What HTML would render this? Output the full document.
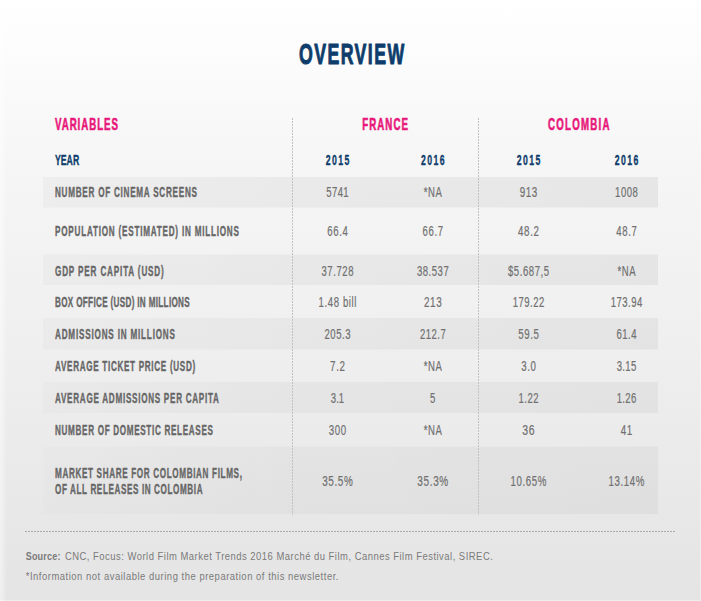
<!DOCTYPE html>
<html><head><meta charset="utf-8"><style>
html,body{margin:0;padding:0;width:701px;height:601px;overflow:hidden;background:#fff}
svg{display:block}
text{font-family:"Liberation Sans",sans-serif}
</style></head><body>
<svg width="701" height="601" viewBox="0 0 701 601">
<defs>
<linearGradient id="bg" x1="0" y1="0" x2="0" y2="1">
<stop offset="0" stop-color="#ffffff"/>
<stop offset="0.06" stop-color="#fdfdfd"/>
<stop offset="0.3" stop-color="#f5f5f5"/>
<stop offset="0.58" stop-color="#efefef"/>
<stop offset="0.88" stop-color="#e7e7e7"/>
<stop offset="1" stop-color="#e4e4e4"/>
</linearGradient>
<linearGradient id="g0" x1="0" y1="0" x2="1" y2="0"><stop offset="0" stop-color="#000" stop-opacity="0.0300"/><stop offset="0.4" stop-color="#000" stop-opacity="0.0450"/><stop offset="1" stop-color="#000" stop-opacity="0.0600"/></linearGradient><linearGradient id="g1" x1="0" y1="0" x2="1" y2="0"><stop offset="0" stop-color="#000" stop-opacity="0.0244"/><stop offset="0.4" stop-color="#000" stop-opacity="0.0405"/><stop offset="1" stop-color="#000" stop-opacity="0.0540"/></linearGradient><linearGradient id="g2" x1="0" y1="0" x2="1" y2="0"><stop offset="0" stop-color="#000" stop-opacity="0.0198"/><stop offset="0.4" stop-color="#000" stop-opacity="0.0368"/><stop offset="1" stop-color="#000" stop-opacity="0.0490"/></linearGradient><linearGradient id="g3" x1="0" y1="0" x2="1" y2="0"><stop offset="0" stop-color="#000" stop-opacity="0.0152"/><stop offset="0.4" stop-color="#000" stop-opacity="0.0330"/><stop offset="1" stop-color="#000" stop-opacity="0.0440"/></linearGradient><linearGradient id="g4" x1="0" y1="0" x2="1" y2="0"><stop offset="0" stop-color="#000" stop-opacity="0.0105"/><stop offset="0.4" stop-color="#000" stop-opacity="0.0292"/><stop offset="1" stop-color="#000" stop-opacity="0.0390"/></linearGradient>
<linearGradient id="lf" x1="0" y1="0" x2="1" y2="0"><stop offset="0" stop-color="#fff" stop-opacity="0.5"/><stop offset="1" stop-color="#fff" stop-opacity="0"/></linearGradient>
</defs>
<rect width="701" height="601" fill="url(#bg)"/>
<rect x="43" y="177" width="615" height="30.5" fill="url(#g0)"/><rect x="43" y="254.5" width="615" height="30.5" fill="url(#g1)"/><rect x="43" y="318" width="615" height="31.5" fill="url(#g2)"/><rect x="43" y="382" width="615" height="31" fill="url(#g3)"/><rect x="43" y="446.6" width="615" height="67.39999999999998" fill="url(#g4)"/>
<rect x="0" y="0" width="7" height="601" fill="url(#lf)"/><rect x="700" y="0" width="1" height="601" fill="#fff" fill-opacity="0.35"/><rect x="0" y="600" width="700" height="1" fill="#fff" fill-opacity="0.35"/>
<line x1="292.5" y1="118" x2="292.5" y2="515" stroke="#c2c2c2" stroke-width="1" stroke-dasharray="2 1"/>
<line x1="478.5" y1="118" x2="478.5" y2="515" stroke="#c2c2c2" stroke-width="1" stroke-dasharray="2 1"/>
<line x1="25" y1="531.5" x2="675" y2="531.5" stroke="#ababab" stroke-width="1" stroke-dasharray="2 1"/>
<text transform="translate(298.90,63.60) scale(0.6,1)" font-size="29.6" font-weight="bold" fill="#0e3d6b" stroke="#0e3d6b" stroke-width="1.0" stroke-linejoin="round" letter-spacing="2.377">OVERVIEW</text><text transform="translate(55.00,129.80) scale(0.6,1)" font-size="16.2" font-weight="bold" fill="#e8177a" stroke="#e8177a" stroke-width="0.6" stroke-linejoin="round" letter-spacing="1.572">VARIABLES</text><text transform="translate(362.20,129.80) scale(0.6,1)" font-size="16.2" font-weight="bold" fill="#e8177a" stroke="#e8177a" stroke-width="0.6" stroke-linejoin="round" letter-spacing="1.764">FRANCE</text><text transform="translate(548.05,129.80) scale(0.6,1)" font-size="16.2" font-weight="bold" fill="#e8177a" stroke="#e8177a" stroke-width="0.6" stroke-linejoin="round" letter-spacing="2.042">COLOMBIA</text><text transform="translate(55.00,165.30) scale(0.6,1)" font-size="14.5" font-weight="bold" fill="#0e3d6b" stroke="#0e3d6b" stroke-width="0.35" stroke-linejoin="round" letter-spacing="0.020">YEAR</text><text transform="translate(325.75,165.30) scale(0.6,1)" font-size="14.5" font-weight="bold" fill="#0e3d6b" stroke="#0e3d6b" stroke-width="0.35" stroke-linejoin="round" letter-spacing="2.301">2015</text><text transform="translate(421.05,165.30) scale(0.6,1)" font-size="14.5" font-weight="bold" fill="#0e3d6b" stroke="#0e3d6b" stroke-width="0.35" stroke-linejoin="round" letter-spacing="2.301">2016</text><text transform="translate(516.75,165.30) scale(0.6,1)" font-size="14.5" font-weight="bold" fill="#0e3d6b" stroke="#0e3d6b" stroke-width="0.35" stroke-linejoin="round" letter-spacing="2.301">2015</text><text transform="translate(614.75,165.30) scale(0.6,1)" font-size="14.5" font-weight="bold" fill="#0e3d6b" stroke="#0e3d6b" stroke-width="0.35" stroke-linejoin="round" letter-spacing="2.301">2016</text><text transform="translate(55.00,197.00) scale(0.58,1)" font-size="14" font-weight="bold" fill="#676767" stroke="#676767" stroke-width="0.4" stroke-linejoin="round" letter-spacing="1.300">NUMBER OF CINEMA SCREENS</text><text transform="translate(326.35,197.00) scale(0.68,1)" font-size="14" font-weight="normal" fill="#717171" stroke="#717171" stroke-width="0.22" stroke-linejoin="round" letter-spacing="0.548">5741</text><text transform="translate(423.70,197.00) scale(0.6811377245508982,1)" font-size="14" font-weight="normal" fill="#717171" stroke="#717171" stroke-width="0.22" stroke-linejoin="round" letter-spacing="0.900">*NA</text><text transform="translate(519.65,197.00) scale(0.7039172797772917,1)" font-size="14" font-weight="normal" fill="#717171" stroke="#717171" stroke-width="0.22" stroke-linejoin="round" letter-spacing="0.900">913</text><text transform="translate(615.10,197.00) scale(0.68,1)" font-size="14" font-weight="normal" fill="#717171" stroke="#717171" stroke-width="0.22" stroke-linejoin="round" letter-spacing="0.793">1008</text><text transform="translate(55.00,236.00) scale(0.58,1)" font-size="14" font-weight="bold" fill="#676767" stroke="#676767" stroke-width="0.4" stroke-linejoin="round" letter-spacing="1.357">POPULATION (ESTIMATED) IN MILLIONS</text><text transform="translate(327.25,236.00) scale(0.6841314867345236,1)" font-size="14" font-weight="normal" fill="#717171" stroke="#717171" stroke-width="0.22" stroke-linejoin="round" letter-spacing="0.900">66.4</text><text transform="translate(422.55,236.00) scale(0.6841314867345236,1)" font-size="14" font-weight="normal" fill="#717171" stroke="#717171" stroke-width="0.22" stroke-linejoin="round" letter-spacing="0.900">66.7</text><text transform="translate(518.05,236.00) scale(0.6974803937927582,1)" font-size="14" font-weight="normal" fill="#717171" stroke="#717171" stroke-width="0.22" stroke-linejoin="round" letter-spacing="0.900">48.2</text><text transform="translate(616.25,236.00) scale(0.6841314867345236,1)" font-size="14" font-weight="normal" fill="#717171" stroke="#717171" stroke-width="0.22" stroke-linejoin="round" letter-spacing="0.900">48.7</text><text transform="translate(55.00,275.50) scale(0.58,1)" font-size="14" font-weight="bold" fill="#676767" stroke="#676767" stroke-width="0.4" stroke-linejoin="round" letter-spacing="1.453">GDP PER CAPITA (USD)</text><text transform="translate(321.50,275.50) scale(0.68,1)" font-size="14" font-weight="normal" fill="#717171" stroke="#717171" stroke-width="0.22" stroke-linejoin="round" letter-spacing="0.851">37.728</text><text transform="translate(416.93,275.50) scale(0.68,1)" font-size="14" font-weight="normal" fill="#717171" stroke="#717171" stroke-width="0.22" stroke-linejoin="round" letter-spacing="0.777">38.537</text><text transform="translate(507.95,275.50) scale(0.68,1)" font-size="14" font-weight="normal" fill="#717171" stroke="#717171" stroke-width="0.22" stroke-linejoin="round" letter-spacing="0.849">$5.687,5</text><text transform="translate(617.40,275.50) scale(0.6811377245508982,1)" font-size="14" font-weight="normal" fill="#717171" stroke="#717171" stroke-width="0.22" stroke-linejoin="round" letter-spacing="0.900">*NA</text><text transform="translate(55.00,307.20) scale(0.58,1)" font-size="14" font-weight="bold" fill="#676767" stroke="#676767" stroke-width="0.4" stroke-linejoin="round" letter-spacing="0.571">BOX OFFICE (USD) IN MILLIONS</text><text transform="translate(318.50,307.20) scale(0.6851167402866672,1)" font-size="14" font-weight="normal" fill="#717171" stroke="#717171" stroke-width="0.22" stroke-linejoin="round" letter-spacing="0.900">1.48 bill</text><text transform="translate(423.90,307.20) scale(0.7078942135613443,1)" font-size="14" font-weight="normal" fill="#717171" stroke="#717171" stroke-width="0.22" stroke-linejoin="round" letter-spacing="0.900">213</text><text transform="translate(512.80,307.20) scale(0.68,1)" font-size="14" font-weight="normal" fill="#717171" stroke="#717171" stroke-width="0.22" stroke-linejoin="round" letter-spacing="0.674">179.22</text><text transform="translate(610.75,307.20) scale(0.68,1)" font-size="14" font-weight="normal" fill="#717171" stroke="#717171" stroke-width="0.22" stroke-linejoin="round" letter-spacing="0.704">173.94</text><text transform="translate(55.00,339.30) scale(0.58,1)" font-size="14" font-weight="bold" fill="#676767" stroke="#676767" stroke-width="0.4" stroke-linejoin="round" letter-spacing="1.407">ADMISSIONS IN MILLIONS</text><text transform="translate(324.45,339.30) scale(0.68,1)" font-size="14" font-weight="normal" fill="#717171" stroke="#717171" stroke-width="0.22" stroke-linejoin="round" letter-spacing="0.837">205.3</text><text transform="translate(419.90,339.30) scale(0.68,1)" font-size="14" font-weight="normal" fill="#717171" stroke="#717171" stroke-width="0.22" stroke-linejoin="round" letter-spacing="0.727">212.7</text><text transform="translate(518.15,339.30) scale(0.6908059402636408,1)" font-size="14" font-weight="normal" fill="#717171" stroke="#717171" stroke-width="0.22" stroke-linejoin="round" letter-spacing="0.900">59.5</text><text transform="translate(616.45,339.30) scale(0.68,1)" font-size="14" font-weight="normal" fill="#717171" stroke="#717171" stroke-width="0.22" stroke-linejoin="round" letter-spacing="0.765">61.4</text><text transform="translate(55.00,371.40) scale(0.58,1)" font-size="14" font-weight="bold" fill="#676767" stroke="#676767" stroke-width="0.4" stroke-linejoin="round" letter-spacing="1.192">AVERAGE TICKET PRICE (USD)</text><text transform="translate(330.05,371.40) scale(0.7008466603951081,1)" font-size="14" font-weight="normal" fill="#717171" stroke="#717171" stroke-width="0.22" stroke-linejoin="round" letter-spacing="0.900">7.2</text><text transform="translate(423.70,371.40) scale(0.6811377245508982,1)" font-size="14" font-weight="normal" fill="#717171" stroke="#717171" stroke-width="0.22" stroke-linejoin="round" letter-spacing="0.900">*NA</text><text transform="translate(521.15,371.40) scale(0.6914393226716838,1)" font-size="14" font-weight="normal" fill="#717171" stroke="#717171" stroke-width="0.22" stroke-linejoin="round" letter-spacing="0.900">3.0</text><text transform="translate(616.70,371.40) scale(0.68,1)" font-size="14" font-weight="normal" fill="#717171" stroke="#717171" stroke-width="0.22" stroke-linejoin="round" letter-spacing="0.520">3.15</text><text transform="translate(55.00,403.20) scale(0.58,1)" font-size="14" font-weight="bold" fill="#676767" stroke="#676767" stroke-width="0.4" stroke-linejoin="round" letter-spacing="1.246">AVERAGE ADMISSIONS PER CAPITA</text><text transform="translate(330.85,403.20) scale(0.68,1)" font-size="14" font-weight="normal" fill="#717171" stroke="#717171" stroke-width="0.22" stroke-linejoin="round" letter-spacing="0.049">3.1</text><text transform="translate(430.00,403.20) scale(0.68,1)" font-size="14" font-weight="normal" fill="#717171" stroke="#717171" stroke-width="0.22" stroke-linejoin="round" letter-spacing="0.000">5</text><text transform="translate(518.40,403.20) scale(0.68,1)" font-size="14" font-weight="normal" fill="#717171" stroke="#717171" stroke-width="0.22" stroke-linejoin="round" letter-spacing="0.814">1.22</text><text transform="translate(616.70,403.20) scale(0.68,1)" font-size="14" font-weight="normal" fill="#717171" stroke="#717171" stroke-width="0.22" stroke-linejoin="round" letter-spacing="0.520">1.26</text><text transform="translate(55.00,435.30) scale(0.58,1)" font-size="14" font-weight="bold" fill="#676767" stroke="#676767" stroke-width="0.4" stroke-linejoin="round" letter-spacing="1.173">NUMBER OF DOMESTIC RELEASES</text><text transform="translate(328.80,435.30) scale(0.6919864784251342,1)" font-size="14" font-weight="normal" fill="#717171" stroke="#717171" stroke-width="0.22" stroke-linejoin="round" letter-spacing="0.900">300</text><text transform="translate(423.70,435.30) scale(0.6811377245508982,1)" font-size="14" font-weight="normal" fill="#717171" stroke="#717171" stroke-width="0.22" stroke-linejoin="round" letter-spacing="0.900">*NA</text><text transform="translate(522.30,435.30) scale(0.7526555386949926,1)" font-size="14" font-weight="normal" fill="#717171" stroke="#717171" stroke-width="0.22" stroke-linejoin="round" letter-spacing="0.900">36</text><text transform="translate(620.70,435.30) scale(0.7040971168437027,1)" font-size="14" font-weight="normal" fill="#717171" stroke="#717171" stroke-width="0.22" stroke-linejoin="round" letter-spacing="0.900">41</text><text transform="translate(55.00,478.00) scale(0.58,1)" font-size="14" font-weight="bold" fill="#676767" stroke="#676767" stroke-width="0.4" stroke-linejoin="round" letter-spacing="1.131">MARKET SHARE FOR COLOMBIAN FILMS,</text><text transform="translate(55.00,494.00) scale(0.58,1)" font-size="14" font-weight="bold" fill="#676767" stroke="#676767" stroke-width="0.4" stroke-linejoin="round" letter-spacing="1.053">OF ALL RELEASES IN COLOMBIA</text><text transform="translate(322.20,486.00) scale(0.7068607068607069,1)" font-size="14" font-weight="normal" fill="#717171" stroke="#717171" stroke-width="0.22" stroke-linejoin="round" letter-spacing="0.900">35.5%</text><text transform="translate(417.35,486.00) scale(0.7137907137907138,1)" font-size="14" font-weight="normal" fill="#717171" stroke="#717171" stroke-width="0.22" stroke-linejoin="round" letter-spacing="0.900">35.3%</text><text transform="translate(510.50,486.00) scale(0.6923742667564189,1)" font-size="14" font-weight="normal" fill="#717171" stroke="#717171" stroke-width="0.22" stroke-linejoin="round" letter-spacing="0.900">10.65%</text><text transform="translate(608.60,486.00) scale(0.6885277430522165,1)" font-size="14" font-weight="normal" fill="#717171" stroke="#717171" stroke-width="0.22" stroke-linejoin="round" letter-spacing="0.900">13.14%</text><text transform="translate(25.70,560.00) scale(0.82,1)" font-size="11" font-weight="bold" fill="#7a7a7a" letter-spacing="0.249">Source:</text><text transform="translate(64.90,560.00) scale(0.86,1)" font-size="11" font-weight="normal" fill="#7a7a7a" letter-spacing="0.568">CNC, Focus: World Film Market Trends 2016 Marché du Film, Cannes Film Festival, SIREC.</text><text transform="translate(25.70,580.00) scale(0.86,1)" font-size="11" font-weight="normal" fill="#7a7a7a" letter-spacing="0.604">*Information not available during the preparation of this newsletter.</text>
</svg>
</body></html>
